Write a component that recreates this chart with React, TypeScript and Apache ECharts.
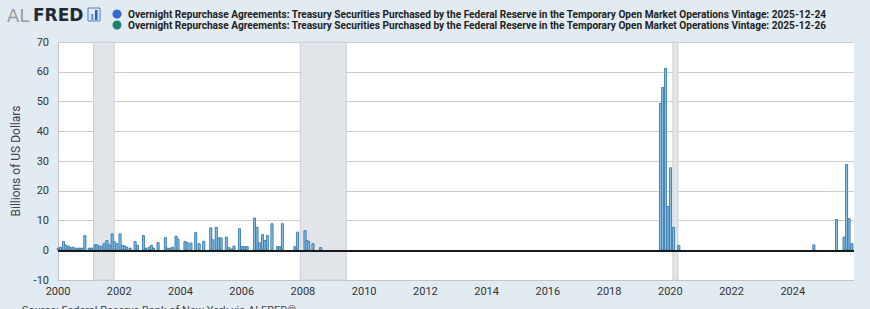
import React, { useEffect, useRef } from "react";
import * as echarts from "echarts";

// ---- data ----
const obsDates: string[] = [
  "2000-01-04", "2000-01-31", "2000-03-07", "2000-03-29", "2000-05-04", "2000-05-26",
  "2000-06-30", "2000-08-08", "2000-09-13", "2000-10-16", "2000-11-17", "2001-01-08",
  "2001-02-06", "2001-03-19", "2001-04-10", "2001-05-11", "2001-06-21", "2001-07-05",
  "2001-08-07", "2001-09-03", "2001-10-09", "2001-11-02", "2001-12-03", "2002-01-11",
  "2002-02-10", "2002-03-07", "2002-04-01", "2002-05-11", "2002-07-09", "2002-08-07",
  "2002-10-16", "2002-11-14", "2002-12-24", "2003-01-20", "2003-02-13", "2003-04-09",
  "2003-07-05", "2003-07-27", "2003-08-29", "2003-10-01", "2003-11-10", "2003-12-02",
  "2004-02-24", "2004-03-21", "2004-05-05", "2004-07-01", "2004-08-11", "2004-10-05",
  "2004-12-28", "2005-01-23", "2005-03-04", "2005-04-02", "2005-05-01", "2005-07-02",
  "2005-07-31", "2005-09-02", "2005-10-01", "2005-12-06", "2006-01-08", "2006-02-03",
  "2006-03-07", "2006-06-03", "2006-07-02", "2006-07-31", "2006-09-06", "2006-10-05",
  "2006-11-03", "2006-12-28", "2007-03-04", "2007-03-30", "2007-05-01", "2007-09-27",
  "2007-10-30", "2008-01-26", "2008-02-17", "2008-03-10", "2008-04-30", "2008-07-31",
  "2019-09-06", "2019-10-01", "2019-11-04", "2019-12-03", "2020-01-04", "2020-02-09",
  "2020-04-12", "2024-09-09", "2025-06-06", "2025-09-05", "2025-10-05", "2025-11-03",
  "2025-12-06",
];

const vintage20251224: number[] = [
  0.8, 1.1, 3.0, 1.9, 1.5, 1.0,
  1.1, 0.8, 0.8, 0.8, 5.0, 0.8,
  0.8, 1.9, 1.9, 1.5, 1.5, 2.3,
  3.4, 1.9, 5.6, 3.0, 2.3, 5.6,
  1.7, 1.5, 1.1, 0.8, 3.0, 1.7,
  5.0, 0.8, 1.1, 1.7, 0.8, 2.7,
  4.3, 0.8, 0.8, 1.1, 4.8, 3.8,
  3.0, 2.7, 2.5, 6.0, 2.3, 3.1,
  7.6, 3.6, 7.8, 4.3, 4.2, 4.5,
  1.0, 0.5, 1.5, 7.3, 1.3, 1.3,
  1.3, 10.9, 7.8, 2.6, 5.3, 3.4,
  5.0, 9.0, 1.3, 1.3, 9.0, 1.3,
  6.2, 6.7, 3.4, 3.0, 2.3, 1.0,
  49.4, 54.8, 61.2, 14.8, 27.8, 7.8,
  1.7, 1.9, 10.4, 4.5, 28.9, 10.7,
  2.3,
];

const vintage20251226: number[] = [...vintage20251224];

const recessionStarts: string[] = ["2001-03-01", "2007-12-01", "2020-02-01"];
const recessionEnds: string[] = ["2001-11-01", "2009-06-01", "2020-04-01"];

const seriesNames: string[] = [
  "Overnight Repurchase Agreements: Treasury Securities Purchased by the Federal Reserve in the Temporary Open Market Operations Vintage: 2025-12-24",
  "Overnight Repurchase Agreements: Treasury Securities Purchased by the Federal Reserve in the Temporary Open Market Operations Vintage: 2025-12-26",
];
const legendColors: string[] = ["#2f6bd0", "#1d8270"];

const yAxisTitle = "Billions of US Dollars";
const sourceText = "Source: Federal Reserve Bank of New York via ALFRED®";

function toYear(d: string): number {
  const [y, m, dd] = d.split("-").map(Number);
  const s = Date.UTC(y, 0, 1);
  const e = Date.UTC(y + 1, 0, 1);
  return y + (Date.UTC(y, m - 1, dd) - s) / (e - s);
}

export default function App() {
  const ref = useRef<HTMLDivElement>(null);

  useEffect(() => {
    if (!ref.current) return;
    const chart = echarts.init(ref.current, undefined, { renderer: "svg" });

    const xs = obsDates.map(toYear);
    const d1 = xs.map((x, i) => [x, vintage20251224[i]]);
    const d2 = xs.map((x, i) => [x, vintage20251226[i]]);
    const areas = recessionStarts.map((s, i) => [
      { xAxis: toYear(s) },
      { xAxis: toYear(recessionEnds[i]) },
    ]);

    const font = "Roboto, 'Noto Sans', sans-serif";

    const barStyle = {
      color: "#93c5e8",
      borderColor: "#3274a6",
      borderWidth: 0.7,
    };

    chart.setOption({
      animation: false,
      backgroundColor: "#e3ebf2",
      textStyle: { fontFamily: font },
      grid: {
        left: 58,
        right: 16,
        top: 42,
        bottom: 29,
        show: true,
        backgroundColor: "#ffffff",
        borderWidth: 0,
      },
      xAxis: {
        type: "value",
        min: 2000,
        max: 2026,
        interval: 2,
        axisLine: { onZero: false, lineStyle: { color: "#c4c4c4", width: 1 } },
        axisTick: { show: false },
        splitLine: { show: false },
        axisLabel: {
          color: "#333",
          fontSize: 11,
          margin: 6,
          fontFamily: font,
          formatter: (v: number) => (v >= 2026 ? "" : String(v)),
        },
      },
      yAxis: {
        type: "value",
        min: -10,
        max: 70,
        interval: 10,
        name: yAxisTitle,
        nameLocation: "middle",
        nameGap: 36,
        nameTextStyle: { color: "#444", fontSize: 12, fontFamily: font },
        axisLine: { show: true, lineStyle: { color: "#c4c4c4", width: 1 } },
        axisTick: { show: false },
        splitLine: { show: true, lineStyle: { color: "#cccccc", width: 1 } },
        axisLabel: {
          color: "#333",
          fontSize: 11,
          margin: 9,
          fontFamily: font,
          padding: [0, 0, 8, 0],
        },
      },
      series: [
        {
          name: seriesNames[0],
          type: "bar",
          data: d1,
          barWidth: 2.6,
          barGap: "-100%",
          itemStyle: barStyle,
          silent: true,
          markArea: {
            silent: true,
            itemStyle: { color: "#e1e5ea", borderColor: "#c9ced4", borderWidth: 1 },
            data: areas,
          },
          markLine: {
            silent: true,
            symbol: "none",
            label: { show: false },
            lineStyle: { color: "#1a1a1a", width: 2, type: "solid" },
            data: [{ yAxis: 0 }],
          },
        },
        {
          name: seriesNames[1],
          type: "bar",
          data: d2,
          barWidth: 2.6,
          barGap: "-100%",
          itemStyle: barStyle,
          silent: true,
        },
      ],
      graphic: [
        {
          type: "text",
          left: 7,
          top: 6,
          style: {
            text: "AL",
            fontSize: 18,
            fontWeight: "normal",
            fontFamily: "'DejaVu Sans', sans-serif",
            fill: "#9a9a9a",
          },
        },
        {
          type: "text",
          left: 33,
          top: 6,
          style: {
            text: "FRED",
            fontSize: 17,
            fontWeight: "bold",
            fontFamily: "'DejaVu Sans', sans-serif",
            fill: "#1f2a36",
          },
        },
        {
          type: "rect",
          shape: { x: 88, y: 8, width: 12, height: 13 },
          style: { fill: "#dfe9f5", stroke: "#4a7fc1", lineWidth: 1 },
        },
        {
          type: "rect",
          shape: { x: 91, y: 14, width: 2.5, height: 6 },
          style: { fill: "#6aa0d8" },
        },
        {
          type: "rect",
          shape: { x: 95, y: 10, width: 2.5, height: 10 },
          style: { fill: "#2a63b5" },
        },
        {
          type: "circle",
          shape: { cx: 117, cy: 14, r: 4.5 },
          style: { fill: legendColors[0] },
        },
        {
          type: "circle",
          shape: { cx: 117, cy: 25, r: 4.5 },
          style: { fill: legendColors[1] },
        },
        {
          type: "text",
          x: 128,
          y: 14,
          style: {
            text: seriesNames[0],
            fontSize: 10.1,
            fontWeight: "bold",
            fontFamily: font,
            fill: "#222",
            verticalAlign: "middle",
          },
        },
        {
          type: "text",
          x: 128,
          y: 25,
          style: {
            text: seriesNames[1],
            fontSize: 10.1,
            fontWeight: "bold",
            fontFamily: font,
            fill: "#222",
            verticalAlign: "middle",
          },
        },
        {
          type: "text",
          x: 22,
          y: 305,
          style: {
            text: sourceText,
            fontSize: 11,
            fontFamily: font,
            fill: "#444",
            verticalAlign: "top",
          },
        },
      ],
    });

    return () => chart.dispose();
  }, []);

  return (
    <div
      ref={ref}
      style={{ position: "absolute", left: 0, top: 0, width: 870, height: 309 }}
    />
  );
}
